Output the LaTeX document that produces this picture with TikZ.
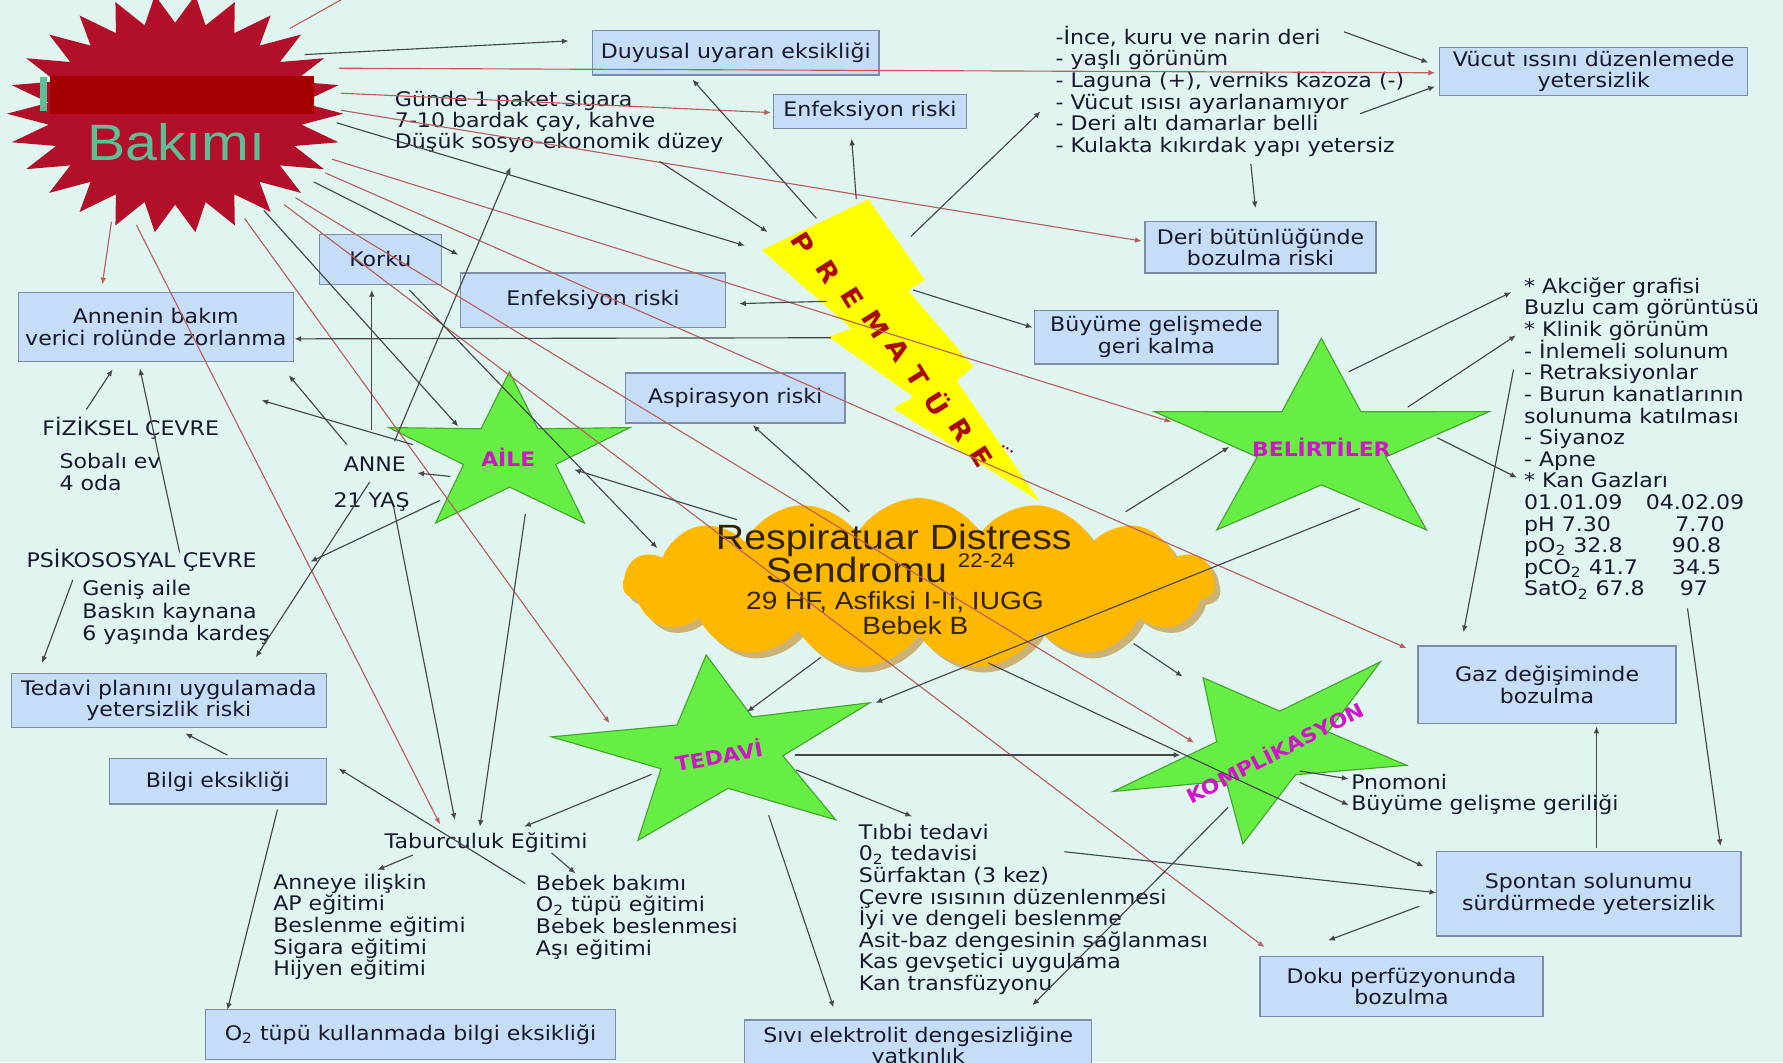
\documentclass[tikz,border=0pt]{standalone}
\usepackage{fontspec}
\setmainfont{DejaVu Sans}[FakeStretch=1.1]
\newfontfamily\arialf{Liberation Sans}[FakeStretch=1.12]
\usetikzlibrary{calc,arrows.meta,shapes.symbols,shadows}
\definecolor{bg}{RGB}{224,245,240}
\definecolor{boxfill}{RGB}{197,221,246}
\definecolor{boxline}{RGB}{125,140,165}
\definecolor{txtc}{RGB}{25,25,45}
\definecolor{starg}{RGB}{102,238,68}
\definecolor{stard}{RGB}{70,165,45}
\definecolor{magl}{RGB}{210,20,200}
\definecolor{cloudc}{RGB}{255,184,0}
\definecolor{cloudsh}{RGB}{190,135,40}
\definecolor{cloudtxt}{RGB}{50,35,0}
\definecolor{boltc}{RGB}{255,255,0}
\definecolor{boltl}{RGB}{170,10,10}
\definecolor{burst}{RGB}{178,16,42}
\definecolor{barc}{RGB}{165,0,0}
\definecolor{tealc}{RGB}{95,190,150}
\definecolor{linegray}{RGB}{70,70,75}
\definecolor{linered}{RGB}{185,95,95}
\newcommand\txt{\fontsize{10.6}{11.4}\selectfont}
\tikzset{
 bx/.style 2 args={draw=boxline, fill=boxfill, line width=0.7pt, align=center, font=\txt, text=txtc, inner sep=0pt, minimum width=#1*0.6pt, minimum height=#2*0.6pt},
 lst/.style={anchor=base west, inner sep=0pt, font=\txt, text=txtc},
 starlbl/.style={font=\bfseries\fontsize{10.5}{12}\selectfont, text=magl, inner sep=0pt},
 boltlet/.style={font=\bfseries\fontsize{13.5}{14}\selectfont, text=boltl, inner sep=0pt, rotate=-58},
 cltxt/.style={anchor=base, inner sep=0pt, text=cloudtxt},
 gl/.style={draw=linegray, line width=0.6pt, -{Latex[length=3.5pt,width=3pt]}},
 rl/.style={draw=linered, line width=0.6pt, -{Latex[length=3.5pt,width=3pt]}},
 rlna/.style={draw=linered, line width=0.6pt}}
\newcommand\txtlines[5]{\foreach \t [count=\i from 0] in {#5} {\node[lst] (#1\i) at ({#2},{#3+\i*#4}) {\t};}}
\newcommand\conn[4]{\coordinate (#2s) at (#3); \coordinate (#2e) at (#4); \draw[#1] (#2s) -- (#2e);}
\newcommand\greenstar[7]{%
 \coordinate (#1c) at (#2);
 \coordinate (#1o1) at (#3); \coordinate (#1o2) at (#4); \coordinate (#1o3) at (#5);
 \coordinate (#1o4) at (#6); \coordinate (#1o5) at (#7);
 \foreach \a/\b in {1/2,2/3,3/4,4/5,5/1}{\coordinate (#1m\a) at ($(#1o\a)!0.5!(#1o\b)$); \coordinate (#1i\a) at ($(#1c)!0.472!(#1m\a)$);}
 \filldraw[fill=starg, draw=stard, line width=0.6pt] (#1o1)--(#1i1)--(#1o2)--(#1i2)--(#1o3)--(#1i3)--(#1o4)--(#1i4)--(#1o5)--(#1i5)--cycle;}
\begin{document}
\begin{tikzpicture}[x=0.6pt,y=-0.6pt]
\useasboundingbox (0,0) rectangle (1568,934);
\clip (0,0) rectangle (1568,934);
\fill[bg] (0,0) rectangle (1568,934);

% lightning
\fill[boltc] (669.9,219.9) -- (763.7,175.3) -- (813.5,246.2) -- (798.8,255.6) -- (856.0,322.5) -- (841.3,334.8) -- (914.6,441.2) -- (785.6,359.1) -- (803.2,348.8) -- (728.5,296.1) -- (749.0,288.8) -- cycle;
\node[boltlet] (bP) at (706,214) {P};
\node[boltlet] (bR1) at (728,239) {R};
\node[boltlet] (bE1) at (750,262) {E};
\node[boltlet] (bM) at (770,285) {M};
\node[boltlet] (bA) at (790,308) {A};
\node[boltlet] (bT) at (807,331) {T};
\node[boltlet] (bU) at (825,354) {Ü};
\node[boltlet] (bR2) at (845,378) {R};
\node[boltlet] (bE2) at (863,402) {E};
\node[font=\bfseries\fontsize{6}{7}\selectfont, text=boltl, inner sep=0pt, rotate=-30] (bdots) at (886,395) {...};

% cloud
\node[cloud, cloud puffs=15, cloud puff arc=120, aspect=3.3, fill=cloudc, draw=none, minimum width=520*0.6pt, minimum height=150*0.6pt, drop shadow={shadow xshift=3pt, shadow yshift=-3pt, fill=cloudsh, opacity=0.6}] (cloud) at (808,513) {};
\node[cltxt, font=\arialf\fontsize{18.5}{20}\selectfont] (rds1) at (786,483) {Respiratuar Distress};
\node[cltxt, font=\arialf\fontsize{18.5}{20}\selectfont] (rds2) at (783,512) {Sendromu \raisebox{0.42em}{\fontsize{10.5}{11}\selectfont 22-24}};
\node[cltxt, font=\arialf\fontsize{13.2}{15}\selectfont] (rds3) at (787,536) {29 HF, Asfiksi I-II, IUGG};
\node[cltxt, font=\arialf\fontsize{13.2}{15}\selectfont] (rds4) at (805,558) {Bebek B};

% stars
\greenstar{aile}{448,400}{448,327}{554,376}{514,460}{383,460}{342,376}
\greenstar{bel}{1162,391}{1162,297.5}{1309.5,362}{1254.5,466}{1070,466}{1015,362}
\greenstar{ted}{633.4,660.4}{621,576}{765,618}{735,721}{561,739}{485,648}
\greenstar{kom}{1116,658}{1058,596}{1214,582}{1237,673}{1093,742}{979,696}
\node[starlbl] (ailel) at (447,402) {AİLE};
\node[starlbl] (bell) at (1162,393) {BELİRTİLER};
\node[starlbl, rotate=10] (tedl) at (632,664) {TEDAVİ};
\node[starlbl, rotate=27] (koml) at (1121,661) {KOMPLİKASYON};

% boxes
\node[bx={252}{39}] (duy) at (647,46.5) {Duyusal uyaran eksikliği};
\node[bx={170}{30}] (enf1) at (765,98) {Enfeksiyon riski};
\node[bx={271}{42}] (vuc) at (1401.5,63) {Vücut ıssını düzenlemede\\yetersizlik};
\node[bx={203}{45}] (deri) at (1108.5,217.5) {Deri bütünlüğünde\\bozulma riski};
\node[bx={107}{44}] (korku) at (334.5,228) {Korku};
\node[bx={233}{48}] (enf2) at (521.5,264) {Enfeksiyon riski};
\node[bx={242}{61}] (annen) at (137,287.5) {Annenin bakım\\verici rolünde zorlanma};
\node[bx={214}{47}] (buy) at (1017,296.5) {Büyüme gelişmede\\geri kalma};
\node[bx={193}{44}] (asp) at (646.5,350) {Aspirasyon riski};
\node[bx={277}{48}] (tplan) at (148.5,616) {Tedavi planını uygulamada\\yetersizlik riski};
\node[bx={191}{40}] (bilgi) at (191.5,687) {Bilgi eksikliği};
\node[bx={227}{68}] (gaz) at (1360.5,602) {Gaz değişiminde\\bozulma};
\node[bx={268}{74}] (spon) at (1397,786) {Spontan solunumu\\sürdürmede yetersizlik};
\node[bx={249}{53}] (doku) at (1232.5,867.5) {Doku perfüzyonunda\\bozulma};
\node[bx={360}{44}] (otup) at (361,910) {O\textsubscript{2} tüpü kullanmada bilgi eksikliği};
\node[bx={305}{48}] (sivi) at (807.5,921) {Sıvı elektrolit dengesizliğine\\yatkınlık};

% text lists
\txtlines{tm}{347}{94}{18.5}{{Günde 1 paket sigara},{7-10 bardak çay, kahve},{Düşük sosyo-ekonomik düzey}}
\txtlines{tr}{928}{39}{19}{{-İnce, kuru ve narin deri},{- yaşlı görünüm},{- Laguna (+), verniks kazoza (-)},{- Vücut ısısı ayarlanamıyor},{- Deri altı damarlar belli},{- Kulakta kıkırdak yapı yetersiz}}
\txtlines{rl}{1340}{258}{19}{{* Akciğer grafisi},{Buzlu cam görüntüsü},{* Klinik görünüm},{- İnlemeli solunum},{- Retraksiyonlar},{- Burun kanatlarının},{solunuma katılması},{- Siyanoz},{- Apne},{* Kan Gazları},{01.01.09},{pH 7.30},{pO\textsubscript{2} 32.8},{pCO\textsubscript{2} 41.7},{SatO\textsubscript{2} 67.8}}
\node[lst] (c2a) at (1447,448) {04.02.09};
\node[lst] (c2b) at (1473,467) {7.70};
\node[lst] (c2c) at (1470,486) {90.8};
\node[lst] (c2d) at (1470,505) {34.5};
\node[lst] (c2e) at (1477,524) {97};
\node[lst] (fiz) at (37,383) {FİZİKSEL ÇEVRE};
\txtlines{sob}{52}{412}{19}{{Sobalı ev},{4 oda}}
\node[lst] (anne) at (302,415) {ANNE};
\node[lst] (yas) at (293,446) {21 YAŞ};
\node[lst] (psi) at (23,499) {PSİKOSOSYAL ÇEVRE};
\txtlines{gen}{72}{524}{19.5}{{Geniş aile},{Baskın kaynana},{6 yaşında kardeş}}
\node[lst] (tab) at (338,746) {Taburculuk Eğitimi};
\txtlines{an}{240}{782}{19}{{Anneye ilişkin},{AP eğitimi},{Beslenme eğitimi},{Sigara eğitimi},{Hijyen eğitimi}}
\txtlines{bb}{471}{783}{19}{{Bebek bakımı},{O\textsubscript{2} tüpü eğitimi},{Bebek beslenmesi},{Aşı eğitimi}}
\txtlines{tt}{755}{738}{19}{{Tıbbi tedavi},{0\textsubscript{2} tedavisi},{Sürfaktan (3 kez)},{Çevre ısısının düzenlenmesi},{İyi ve dengeli beslenme},{Asit-baz dengesinin sağlanması},{Kas gevşetici uygulama},{Kan transfüzyonu}}
\node[lst] (pno) at (1188,694) {Pnomoni};
\node[lst] (bgg) at (1188,713) {Büyüme gelişme geriliği};

% connectors from the starburst
\conn{rlna}{r1}{255,25}{305,-3}
\conn{gl}{r2}{268,48}{500,36}
\conn{rl}{r3}{298,60}{1262,64}
\conn{rl}{r4}{300,82}{678,99}
\conn{rl}{r5}{300,97}{1004,212}
\conn{gl}{r6}{296,108}{655,216}
\conn{rl}{r7}{292,140}{1030,371}
\conn{rl}{r8}{286,152}{1237,570}
\conn{gl}{r9}{276,160}{403,224}
\conn{rl}{r10}{260,174}{1050,653}
\conn{rl}{r11}{250,180}{1112,833}
\conn{gl}{r12}{232,185}{403,375}
\conn{rl}{r13}{215,192}{536,636}
\conn{rl}{r14}{120,198}{387,725}
\conn{rl}{r15}{98,195}{90,250}

% other connectors
\conn{gl}{g1}{718,192}{609,70}
\conn{gl}{g2}{753,175}{749,122}
\conn{gl}{g3}{801,208}{915,98}
\conn{gl}{g4}{580,142}{675,204}
\conn{gl}{g5}{1182,28}{1256,55}
\conn{gl}{g6}{1196,100}{1262,76}
\conn{gl}{g7}{1100,144}{1104,183}
\conn{gl}{g8}{727,265}{650,267}
\conn{gl}{g9}{803,255}{908,288}
\conn{gl}{g10}{731,297}{259,298}
\conn{gl}{g11}{747,450}{662,374}
\conn{gl}{g12}{990,450}{1081,393}
\conn{gl}{g13}{722,578}{657,626}
\conn{gl}{g14}{997,566}{1040,595}
\conn{gl}{g15}{869,583}{1252,762}
\conn{gl}{g16}{699,664}{1038,664}
\conn{gl}{g17}{700,677}{802,718}
\conn{gl}{g18}{676,717}{733,886}
\conn{gl}{g19}{573,681}{461,727}
\conn{gl}{g20}{1196,447}{770,618}
\conn{gl}{g21}{1186,327}{1329,257}
\conn{gl}{g22}{1238,358}{1333,295}
\conn{gl}{g23}{1264,385}{1334,420}
\conn{gl}{g24}{1331,325}{1287,556}
\conn{gl}{g25}{1484,535}{1513,744}
\conn{gl}{g26}{1404,746}{1404,639}
\conn{gl}{g27}{1248,797}{1168,827}
\conn{gl}{g28}{1143,678}{1186,685}
\conn{gl}{g29}{1143,688}{1186,708}
\conn{gl}{g30}{936,749}{1263,785}
\conn{gl}{g31}{1080,710}{908,884}
\conn{gl}{g32}{360,255}{578,482}
\conn{gl}{g33}{648,457}{505,413}
\conn{gl}{g34}{327,378}{327,255}
\conn{gl}{g35}{347,388}{449,147}
\conn{gl}{g36}{396,419}{367,416}
\conn{gl}{g37}{305,391}{254,330}
\conn{gl}{g38}{363,391}{230,352}
\conn{gl}{g39}{76,360}{99,325}
\conn{gl}{g40}{158,486}{123,324}
\conn{gl}{g41}{325,424}{225,578}
\conn{gl}{g42}{387,440}{273,494}
\conn{gl}{g43}{64,510}{37,583}
\conn{gl}{g44}{346,445}{400,721}
\conn{gl}{g45}{462,452}{422,727}
\conn{gl}{g46}{485,750}{506,768}
\conn{gl}{g47}{363,752}{332,765}
\conn{gl}{g48}{462,777}{298,676}
\conn{gl}{g49}{200,664}{163,645}
\conn{gl}{g50}{244,712}{200,888}

% starburst
\fill[burst, shift={(154,100)}] (0:148 and 105) \foreach \k in {0,...,25} { -- ({\k*360/26}:148 and 105) -- ({(\k+0.5)*360/26}:112 and 80) } -- cycle;
\fill[barc] (44,67) rectangle (276,100);
\fill[tealc] (35,68) rectangle (41,98);
\node[font=\arialf\fontsize{27}{30}\selectfont, text=tealc, inner sep=0pt] (bak) at (155,125) {Bakımı};
\end{tikzpicture}
\end{document}
